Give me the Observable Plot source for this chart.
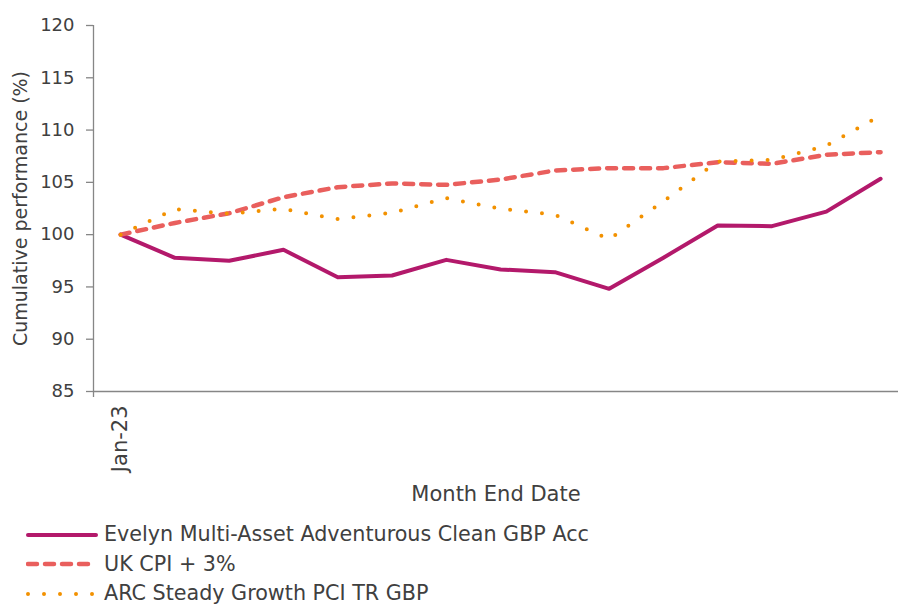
<!DOCTYPE html>
<html><head><meta charset="utf-8">
<script src="https://cdn.jsdelivr.net/npm/d3@7"></script>
<script src="https://cdn.jsdelivr.net/npm/@observablehq/plot@0.6"></script>
<style>
body{margin:0;background:#fff;font-family:"DejaVu Sans",sans-serif;color:#404040;}
#legend{font-size:20.7px;line-height:29.5px;}
.row{display:flex;align-items:center;height:29.5px;white-space:nowrap;}
.row svg{margin-left:26px;margin-right:6px;}
</style></head><body><div id="chart"></div><div id="legend"></div><script>
const months = ["Jan-23","Feb-23","Mar-23","Apr-23","May-23","Jun-23","Jul-23","Aug-23","Sep-23","Oct-23","Nov-23","Dec-23","Jan-24","Feb-24","Mar-24"];
const evelyn = [100,97.78,97.5,98.55,95.93,96.09,97.59,96.67,96.41,94.82,97.8,100.87,100.81,102.2,105.34];
const cpi    = [100,101.12,102.05,103.58,104.54,104.9,104.76,105.27,106.13,106.36,106.36,106.93,106.77,107.64,107.89];
const arc    = [100,102.44,102.0,102.47,101.48,102.09,103.49,102.47,101.9,99.56,103.2,107.0,107.16,108.5,111.4];
const seriesNames = ["Evelyn Multi-Asset Adventurous Clean GBP Acc","UK CPI + 3%","ARC Steady Growth PCI TR GBP"];
const colors = ["#b3196b","#e95f5d","#f29100"];
const yTicks = [85,90,95,100,105,110,115,120];
const xTickLabels = ["Jan-23"];

const seriesData = [evelyn, cpi, arc];
const styles = [
  {strokeWidth:4, strokeDasharray:null},
  {strokeWidth:4.5, strokeDasharray:"9,8"},
  {strokeWidth:4, strokeDasharray:"0,16"}
];
const rows = seriesData.map((vals,s)=>vals.map((v,i)=>({i, v, s})));
const textColor = "#404040", axisColor = "#868686";
const font = "'DejaVu Sans', sans-serif";

const lineMarks = rows.map((r,s)=>Plot.line(r,{x:"i", y:"v", stroke:colors[s], strokeWidth:styles[s].strokeWidth, strokeDasharray:styles[s].strokeDasharray, strokeLinecap:"round", strokeLinejoin:"round"}));

const chart = Plot.plot({
  width:898, height:520,
  marginLeft:93, marginRight:0, marginTop:25, marginBottom:129,
  style:{fontFamily:font, color:textColor, background:"#fff"},
  x:{domain:[-0.5,14.33], axis:null},
  y:{domain:[85,120], axis:null},
  marks:[
    Plot.ruleY([85],{stroke:axisColor, strokeWidth:1.3}),
    Plot.ruleX([-0.5],{stroke:axisColor, strokeWidth:1.3}),
    Plot.axisY({ticks:yTicks, tickSize:7, tickPadding:12, fontSize:18, label:null, stroke:axisColor, strokeWidth:1.3, fill:textColor, strokeOpacity:1}),
    Plot.axisX({ticks:[-0.5], tickSize:6, tickFormat:()=>"", label:null, stroke:axisColor, strokeWidth:1.3, strokeOpacity:1}),
    Plot.axisX({ticks:[0], tickSize:0, tickPadding:14, tickRotate:-90, tickFormat:i=>xTickLabels[i], fontSize:21, label:null, fill:textColor}),
    Plot.text(["Cumulative performance (%)"],{frameAnchor:"left", textAnchor:"middle", rotate:-90, dx:-73, fontSize:19, fill:textColor}),
    Plot.text(["Month End Date"],{frameAnchor:"bottom", dy:109, fontSize:21, fill:textColor}),
    ...lineMarks
  ]
});
document.getElementById("chart").appendChild(chart);

const legend = document.getElementById("legend");
seriesNames.forEach((name,s)=>{
  const row = document.createElement("div");
  row.className = "row";
  const svg = d3.create("svg").attr("width",72).attr("height",10);
  svg.append("line").attr("x1",2).attr("x2",70).attr("y1",5).attr("y2",5)
    .attr("stroke",colors[s]).attr("stroke-width",styles[s].strokeWidth)
    .attr("stroke-linecap","round")
    .attr("stroke-dasharray",s===1?"9,8":s===2?"0,16":null);
  row.appendChild(svg.node());
  const t = document.createElement("span");
  t.textContent = name;
  row.appendChild(t);
  legend.appendChild(row);
});
</script></body></html>
